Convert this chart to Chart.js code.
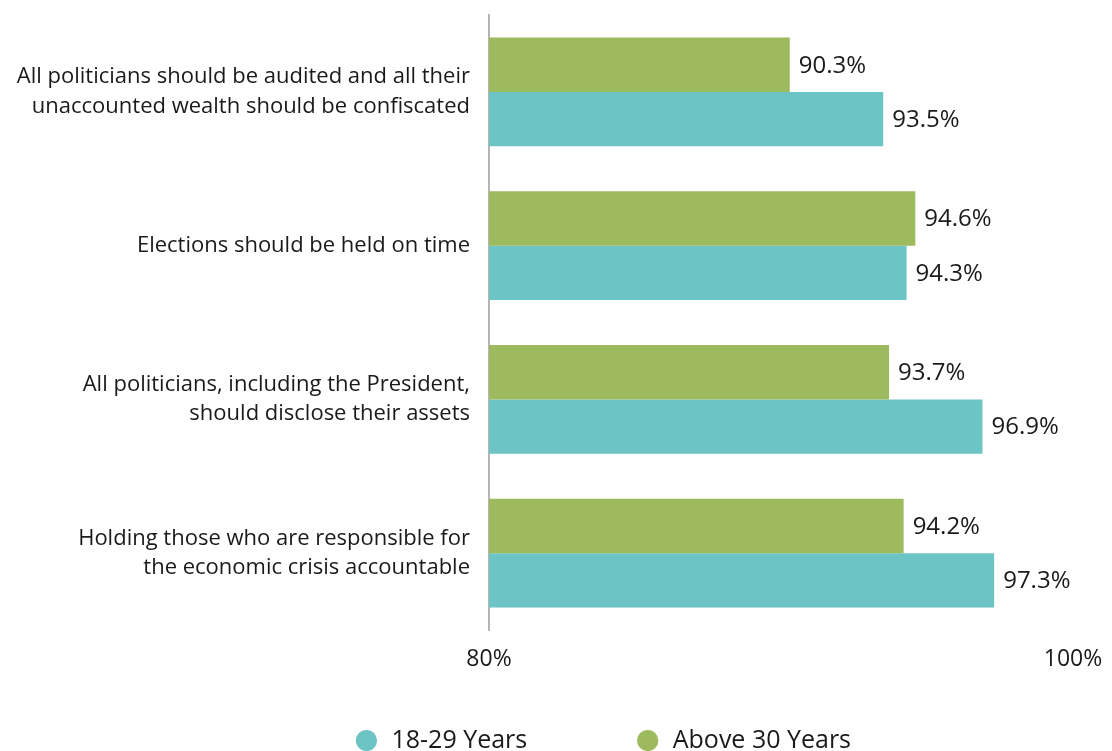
<!DOCTYPE html>
<html>
<head>
<meta charset="utf-8">
<script src="https://cdn.jsdelivr.net/npm/chart.js@4"></script>
<style>
  html, body { margin: 0; padding: 0; background: #ffffff; }
  #wrap { width: 1112px; height: 751px; position: relative; }
</style>
</head>
<body>
<div id="wrap"><canvas id="c" width="1112" height="751"></canvas></div>
<script>
const categories = [
  ["All politicians should be audited and all their", "unaccounted wealth should be confiscated"],
  ["Elections should be held on time"],
  ["All politicians, including the President,", "should disclose their assets"],
  ["Holding those who are responsible for", "the economic crisis accountable"]
];
const seriesNames = ["Above 30 Years", "18-29 Years"];
const above30 = [90.3, 94.6, 93.7, 94.2];
const age18to29 = [93.5, 94.3, 96.9, 97.3];
const xTicks = [80, 100];

const FONT = "'Open Sans', 'DejaVu Sans', sans-serif";

const valueLabels = {
  id: 'valueLabels',
  afterDatasetsDraw(chart) {
    const ctx = chart.ctx;
    ctx.save();
    ctx.font = "24px " + FONT;
    ctx.fillStyle = "#1a1a1a";
    ctx.textAlign = "left";
    ctx.textBaseline = "middle";
    chart.data.datasets.forEach((ds, i) => {
      const meta = chart.getDatasetMeta(i);
      meta.data.forEach((bar, j) => {
        ctx.fillText(ds.data[j].toFixed(1) + "%", bar.x + 9, bar.y + 1);
      });
    });
    ctx.restore();
  }
};

const legendShift = {
  id: 'legendShift',
  afterLayout(chart) {
    const lg = chart.legend;
    if (lg) {
      lg.top -= 94;
      lg.left += 66;
      lg.right += 66;
    }
  }
};

new Chart(document.getElementById('c'), {
  type: 'bar',
  data: {
    labels: categories,
    datasets: [
      { label: seriesNames[0], data: above30, backgroundColor: '#9dba5f', borderWidth: 0 },
      { label: seriesNames[1], data: age18to29, backgroundColor: '#6cc4c5', borderWidth: 0 }
    ]
  },
  plugins: [valueLabels, legendShift],
  options: {
    indexAxis: 'y',
    responsive: false,
    animation: false,
    devicePixelRatio: 1,
    layout: { padding: { top: 15, right: 39, left: 0, bottom: 0 } },
    datasets: { bar: { categoryPercentage: 0.708, barPercentage: 1.0 } },
    scales: {
      x: {
        min: 80,
        max: 100,
        afterBuildTicks(scale) { scale.ticks = xTicks.map(v => ({ value: v })); },
        grid: { display: false, drawTicks: false },
        border: { display: false },
        ticks: {
          padding: 16,
          color: '#1a1a1a',
          font: { family: FONT, size: 23 },
          callback: v => v + '%'
        },
        afterFit(scale) {
          scale.height = 751 - 37 - 630;
          scale.paddingLeft = 0;
          scale.paddingRight = 0;
        }
      },
      y: {
        grid: { display: false, drawTicks: false },
        border: { display: true, color: '#b5b5b5', width: 2 },
        ticks: {
          padding: 19,
          color: '#1a1a1a',
          font: { family: FONT, size: 22, lineHeight: 1.35 }
        },
        afterFit(scale) {
          scale.width = 489;
          scale.paddingTop = 0;
          scale.paddingBottom = 0;
        }
      }
    },
    plugins: {
      legend: {
        position: 'bottom',
        reverse: true,
        maxHeight: 37,
        labels: {
          usePointStyle: true,
          pointStyle: 'circle',
          boxWidth: 25,
          boxHeight: 15,
          padding: 108,
          color: '#1a1a1a',
          font: { family: FONT, size: 25 }
        }
      },
      tooltip: { enabled: false }
    }
  }
});
</script>
</body>
</html>
